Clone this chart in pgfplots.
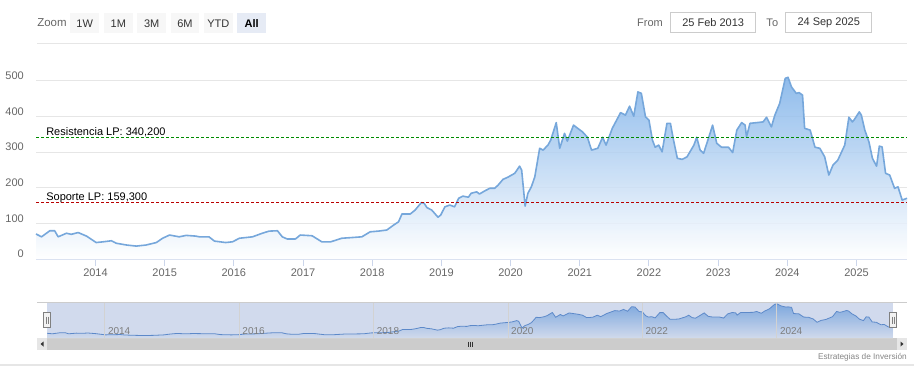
\documentclass[border=0pt]{standalone}
\usepackage{fontspec}
\setmainfont{Liberation Sans}
\usepackage{pgfplots}
\pgfplotsset{compat=1.18}
\usepackage{pgfplotstable}
\definecolor{lineblue}{RGB}{118,167,219}
\definecolor{fillblue}{RGB}{124,176,232}
\definecolor{gridc}{RGB}{230,230,230}
\definecolor{axc}{RGB}{204,214,235}
\definecolor{lab}{RGB}{102,102,102}
\definecolor{txt}{RGB}{51,51,51}
\definecolor{resgreen}{RGB}{0,140,0}
\definecolor{supred}{RGB}{185,0,0}
\definecolor{btn}{RGB}{247,247,247}
\definecolor{btnsel}{RGB}{230,235,245}
\definecolor{boxc}{RGB}{204,204,204}
\definecolor{mask}{RGB}{102,133,194}
\definecolor{navline}{RGB}{90,140,205}
\definecolor{scroll}{RGB}{204,204,204}
\definecolor{scrbtn}{RGB}{230,230,230}
\definecolor{track}{RGB}{242,242,242}

\pgfplotstableread{
x y
2013.14 71
2013.22 63
2013.34 80
2013.41 80
2013.46 63
2013.58 73
2013.65 70
2013.75 75
2013.87 65
2014.01 47
2014.11 49
2014.23 52
2014.30 45
2014.45 40
2014.59 37
2014.73 40
2014.88 47
2014.97 59
2015.07 68
2015.21 63
2015.31 67
2015.45 65
2015.50 63
2015.64 63
2015.72 51
2015.88 47
2015.98 49
2016.08 59
2016.27 63
2016.41 73
2016.51 79
2016.63 80
2016.70 63
2016.77 57
2016.89 57
2016.96 68
2017.13 66
2017.23 54
2017.27 49
2017.40 49
2017.56 59
2017.71 61
2017.85 63
2017.97 77
2018.09 79
2018.21 82
2018.31 96
2018.38 105
2018.43 127
2018.55 127
2018.62 138
2018.71 159
2018.75 157
2018.79 145
2018.86 138
2018.91 127
2018.95 118
2018.99 124
2019.05 147
2019.12 152
2019.19 147
2019.25 171
2019.31 177
2019.39 174
2019.43 185
2019.51 189
2019.55 183
2019.63 192
2019.70 199
2019.77 199
2019.82 208
2019.89 224
2019.96 230
2020.06 241
2020.13 261
2020.16 250
2020.21 149
2020.25 185
2020.30 203
2020.35 231
2020.42 311
2020.47 306
2020.54 320
2020.58 334
2020.66 383
2020.71 311
2020.78 353
2020.82 331
2020.91 376
2020.97 367
2021.04 357
2021.11 342
2021.17 306
2021.26 311
2021.33 342
2021.38 320
2021.47 367
2021.59 411
2021.66 404
2021.72 429
2021.78 401
2021.84 469
2021.89 465
2021.95 399
2022.00 390
2022.05 334
2022.09 314
2022.14 320
2022.19 301
2022.26 381
2022.31 381
2022.35 339
2022.41 283
2022.48 280
2022.55 287
2022.65 320
2022.69 342
2022.74 306
2022.79 297
2022.86 339
2022.92 376
2022.98 325
2023.05 314
2023.15 314
2023.21 299
2023.27 362
2023.34 383
2023.39 376
2023.41 343
2023.46 381
2023.56 383
2023.65 385
2023.70 398
2023.77 371
2023.82 404
2023.89 437
2023.97 507
2024.01 510
2024.06 483
2024.13 465
2024.17 467
2024.22 460
2024.25 367
2024.33 362
2024.40 314
2024.47 311
2024.54 287
2024.60 236
2024.66 264
2024.73 278
2024.83 320
2024.89 398
2024.94 385
2024.97 392
2025.04 413
2025.07 404
2025.12 362
2025.18 329
2025.23 283
2025.29 261
2025.33 317
2025.37 315
2025.42 241
2025.48 236
2025.55 199
2025.60 203
2025.66 166
2025.73 171
}\data

\newcommand{\fs}{\fontsize{8.25}{9.9}\selectfont}

\begin{document}
\begin{tikzpicture}
\useasboundingbox (0,0) rectangle (685.5pt,-284.25pt);
\begin{scope}[x=0.75pt,y=-0.75pt]
  % header
  \node[anchor=west, inner sep=0pt, text=lab, font=\fontsize{8.6}{10}\selectfont] at (37,23) {Zoom};
  \foreach \a/\b/\t in {70/99.3/1W,104/132.7/1M,137.3/166/3M,170.7/199.3/6M,204/232.7/YTD}{
    \fill[btn] (\a,13.3) rectangle (\b,33.3);
    \node[inner sep=0pt, text=txt, font=\fs] at ({(\a+\b)/2},23.3) {\t};
  }
  \fill[btnsel] (237.3,13.3) rectangle (266,33.3);
  \node[inner sep=0pt, text=black, font=\fs\bfseries] at (251.6,23.3) {All};
  \node[inner sep=0pt, text=lab, font=\fs] at (650,23) {From};
  \draw[boxc, fill=white, line width=0.75pt] (670.7,12.7) rectangle (755.7,32.3);
  \node[inner sep=0pt, text=txt, font=\fs] at (713.2,22.5) {25 Feb 2013};
  \node[inner sep=0pt, text=lab, font=\fs] at (772.3,23) {To};
  \draw[boxc, fill=white, line width=0.75pt] (785.7,12.7) rectangle (871.7,32.3);
  \node[inner sep=0pt, text=txt, font=\fs] at (828.7,22.5) {24 Sep 2025};
  \draw[gridc, line width=1.2pt] (37,43.5) -- (907,43.5);
  % scrollbar
  \fill[track] (37,338) rectangle (907,350);
  \fill[scroll] (47,338) rectangle (897,350);
  \fill[scrbtn] (37,338) rectangle (47,350);
  \fill[scrbtn] (897,338) rectangle (907,350);
  \fill[txt] (40.5,344) -- (43.5,341.5) -- (43.5,346.5) -- cycle;
  \fill[txt] (903.5,344) -- (900.5,341.5) -- (900.5,346.5) -- cycle;
  \foreach \g in {468.5,470.5,472.5}{\draw[txt, line width=0.6pt] (\g,341.5) -- (\g,346.5);}
  \node[anchor=east, inner sep=0pt, text=lab!80, font=\fontsize{6.2}{7}\selectfont] at (907,357) {Estrategias de Inversión};
  \draw[gridc, line width=1pt] (0,365) -- (914,365);
\end{scope}

\begin{axis}[
  at={(27pt,-194.475pt)}, anchor=south west,
  scale only axis, width=653.25pt, height=143.475pt,
  xmin=2013.14, xmax=2025.73, ymin=0, ymax=536,
  axis x line*=bottom, axis y line*=left,
  x axis line style={draw=axc, line width=0.75pt, -},
  y axis line style={draw=none},
  ytick={0,100,200,300,400,500},
  ymajorgrids, grid style={gridc, line width=0.75pt},
  y tick style={draw=none},
  xtick={2014,2015,2016,2017,2018,2019,2020,2021,2022,2023,2024,2025},
  xticklabels={2014,2015,2016,2017,2018,2019,2020,2021,2022,2023,2024,2025},
  x tick style={draw=axc, line width=0.75pt},
  tick align=outside, major tick length=5.25pt,
  /pgf/number format/assume math mode=true,
  xticklabel style={font=\fs, text=lab, anchor=north, inner sep=0pt, yshift=-1.75pt},
  yticklabel style={font=\fs, text=lab, anchor=south east, inner sep=0pt, xshift=-3.75pt, yshift=0.75pt},
  clip=false,
]
\addplot[draw=none, top color=fillblue, bottom color=white, fill opacity=0.85] table[x=x,y=y] {\data} \closedcycle;
\addplot[lineblue, line width=1.2pt, line join=round] table[x=x,y=y] {\data};
\addplot[resgreen, line width=0.75pt, dash pattern=on 2.25pt off 1.5pt] coordinates {(2013.14,340.2) (2025.73,340.2)};
\addplot[supred, line width=0.75pt, dash pattern=on 2.25pt off 1.5pt] coordinates {(2013.14,159.3) (2025.73,159.3)};
\node[anchor=base west, inner sep=0pt, font=\fs, text=black] at (axis cs:2013.285,348) {Resistencia LP: 340,200};
\node[anchor=base west, inner sep=0pt, font=\fs, text=black] at (axis cs:2013.285,165) {Soporte LP: 159,300};
\end{axis}

\begin{axis}[
  at={(35.25pt,-253.5pt)}, anchor=south west,
  scale only axis, width=634.5pt, height=27pt,
  xmin=2013.14, xmax=2025.73, ymin=0, ymax=540,
  axis on top,
  axis line style={draw=none},
  ytick=\empty,
  xtick={2014,2016,2018,2020,2022,2024},
  xticklabels={2014,2016,2018,2020,2022,2024},
  xmajorgrids, grid style={gray!35, line width=0.6pt},
  x tick style={draw=none},
  xticklabel style={font=\fontsize{7.5}{9}\selectfont, text=lab!85, anchor=base west, inner sep=0pt, xshift=2.25pt, yshift=3pt},
  /pgf/number format/assume math mode=true,
]
\addplot[draw=none, top color=fillblue, bottom color=white, fill opacity=0.9] table[x=x,y=y] {\data} \closedcycle;
\addplot[navline, line width=0.6pt] table[x=x,y=y] {\data};
\fill[mask, fill opacity=0.3] (rel axis cs:0,0) rectangle (rel axis cs:1,1);
\end{axis}

\begin{scope}[x=0.75pt,y=-0.75pt]
  \draw[boxc, line width=0.75pt] (37,302) -- (907,302);
  \foreach \h in {47,893}{
    \draw[gray, fill=track, line width=0.6pt] (\h-3.5,312.5) rectangle (\h+3.5,327.5);
    \draw[gray, line width=0.5pt] (\h-1,316.5) -- (\h-1,323.5);
    \draw[gray, line width=0.5pt] (\h+1,316.5) -- (\h+1,323.5);
  }
\end{scope}
\end{tikzpicture}
\end{document}
